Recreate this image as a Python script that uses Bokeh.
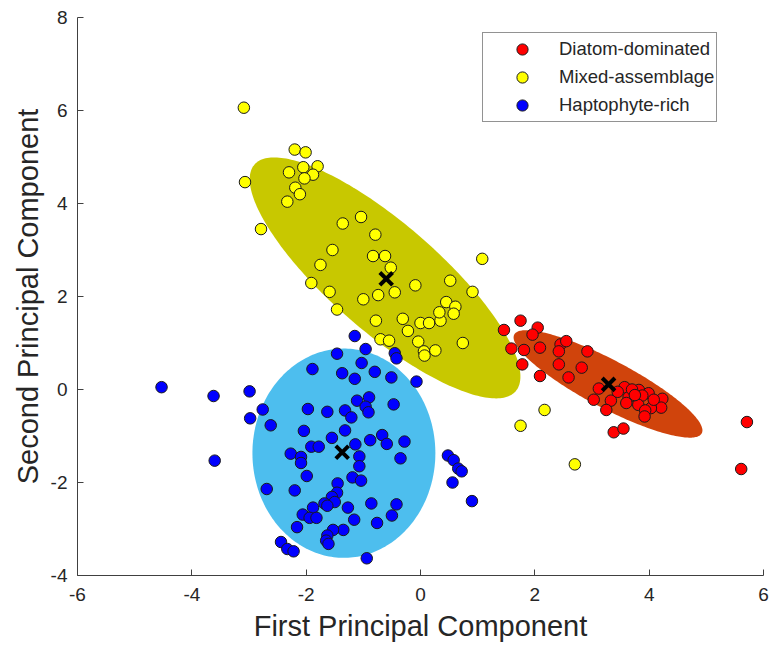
import numpy as np
from bokeh.plotting import figure
from bokeh.models import Range1d, Legend, LegendItem, FixedTicker
from bokeh.embed import file_html
from bokeh.resources import INLINE

groups = ["Diatom-dominated", "Mixed-assemblage", "Haptophyte-rich"]

diatom_x = [1.75, 1.46, 2.05, 1.96, 1.59, 1.81, 2.09, 2.45, 2.55, 2.42, 2.92, 1.78, 2.42, 2.82,
            2.09, 2.59, 3.12, 3.03, 3.33, 3.25, 3.57, 3.82, 3.99, 3.88, 3.64, 3.60, 3.81, 4.23,
            4.21, 4.03, 3.93, 3.92, 3.38, 3.55, 5.71, 5.61, 3.70, 4.08, 3.45, 3.75]
diatom_y = [1.48, 1.28, 1.33, 1.18, 0.88, 0.85, 0.90, 0.97, 1.04, 0.82, 0.82, 0.54, 0.54, 0.47,
            0.29, 0.26, 0.02, -0.22, -0.24, -0.44, 0.05, -0.01, -0.08, -0.13, -0.17, -0.29, -0.33, -0.20,
            -0.39, -0.40, -0.45, -0.58, -0.92, -0.84, -0.70, -1.71, 0.00, -0.22, -0.05, -0.12]

mixed_x = [-3.09, -2.20, -2.01, -1.80, -2.05, -2.30, -1.88, -2.03, -3.07, -2.19, -2.11, -2.33,
           -2.79, -1.04, -1.36, -0.79, -1.54, -0.83, -0.62, -1.75, -0.52, 1.08, 0.52, -0.09,
           -1.91, 0.91, -1.59, -1.46, -1.00, -0.74, -0.45, -0.78, -0.31, -0.22, 0.00, 0.15,
           0.35, 0.33, 0.45, 0.61, 0.58, -0.70, -0.55, -0.04, 0.06, 0.07, 0.26, 0.74,
           2.17, 1.75, 2.70]
mixed_y = [6.06, 5.16, 5.10, 4.80, 4.78, 4.67, 4.62, 4.54, 4.46, 4.34, 4.20, 4.04,
           3.45, 3.71, 3.57, 3.33, 3.00, 2.87, 2.87, 2.68, 2.62, 2.81, 2.34, 2.24,
           2.29, 2.10, 2.10, 1.72, 1.94, 2.03, 2.09, 1.48, 1.52, 1.26, 1.43, 1.43,
           1.48, 1.66, 1.88, 1.78, 1.63, 1.08, 1.05, 1.03, 0.82, 0.73, 0.84, 1.00,
           -0.44, -0.78, -1.61]

hapto_x = [-4.53, -3.62, -2.99, -2.76, -2.98, -2.62, -3.60, -1.15, -0.96, -1.46, -0.45, -0.42,
           -1.89, -1.03, -1.37, -1.15, -0.80, -0.51, -0.07, -1.11, -0.90, -0.96, -0.91, -0.47,
           -1.97, -1.63, -1.32, -1.21, -2.04, -1.32, -1.55, -0.67, -0.59, -0.28, -0.88, -1.14,
           -1.91, -1.78, -2.27, -2.09, -2.09, -0.35, -1.07, -1.07, -1.99, -1.19, -1.04, -1.45,
           -2.69, -2.20, -1.46, -1.55, -1.50, -1.68, -1.63, -0.86, -0.42, -0.50, -1.27, -1.16,
           -0.76, -1.88, -2.06, -1.94, -1.82, -2.16, -1.35, -1.53, -1.63, -1.65, -1.61, -2.44,
           -2.33, -2.22, -0.94, 0.48, 0.58, 0.66, 0.56, 0.72, 0.90]
hapto_y = [0.05, -0.14, -0.04, -0.43, -0.62, -0.77, -1.53, 1.15, 0.87, 0.77, 0.78, 0.67,
           0.44, 0.57, 0.35, 0.23, 0.38, 0.26, 0.17, -0.24, -0.17, -0.37, -0.49, -0.32,
           -0.42, -0.48, -0.45, -0.60, -0.89, -0.88, -1.04, -0.98, -1.17, -1.12, -1.09, -1.18,
           -1.23, -1.23, -1.38, -1.45, -1.58, -1.48, -1.44, -1.65, -1.86, -1.89, -1.96, -2.02,
           -2.14, -2.17, -2.22, -2.31, -2.42, -2.45, -2.50, -2.45, -2.47, -2.71, -2.54, -2.80,
           -2.87, -2.54, -2.69, -2.76, -2.76, -2.96, -3.02, -3.02, -3.14, -3.25, -3.32, -3.28,
           -3.43, -3.48, -3.63, -1.42, -1.52, -1.70, -2.00, -1.76, -2.40]

# cluster centroids (black crosses)
cent_x = [3.29, -0.60, -1.37]
cent_y = [0.11, 2.38, -1.35]

# ellipse centres and conjugate semi-axis vectors (data units)
ell_cx = [3.28, -0.62, -1.34]
ell_cy = [0.12, 2.40, -1.37]
ell_ax = [1.640, 2.285, 1.60]
ell_ay = [-1.062, -2.437, 0.0]
ell_bx = [0.196, 0.620, 0.0]
ell_by = [0.456, 0.880, 2.25]

marker_colors = ["#FF0000", "#FFFF00", "#0000FF"]
fill_colors = ["#D0440C", "#C8C800", "#4DBEEE"]

x_ticks = [-6, -4, -2, 0, 2, 4, 6]
y_ticks = [-4, -2, 0, 2, 4, 6, 8]

FONT = "Liberation Sans"
TXT = "#262626"

p = figure(width=771, height=646, output_backend="svg", toolbar_location=None,
           x_range=Range1d(-6, 6), y_range=Range1d(-4, 8),
           min_border_left=77, min_border_right=8, min_border_top=17, min_border_bottom=71)
p.outline_line_color = None
p.grid.grid_line_color = None
p.background_fill_color = "white"
p.border_fill_color = "white"

# ellipses (drawn first): blue, red, yellow
t = np.linspace(0, 2 * np.pi, 240)
for i in [2, 0, 1]:
    ex = ell_cx[i] + ell_ax[i] * np.cos(t) + ell_bx[i] * np.sin(t)
    ey = ell_cy[i] + ell_ay[i] * np.cos(t) + ell_by[i] * np.sin(t)
    p.patch(ex, ey, fill_color=fill_colors[i], line_color=None)

series = [(diatom_x, diatom_y), (mixed_x, mixed_y), (hapto_x, hapto_y)]
rends = []
for i in [2, 1, 0]:
    xs, ys = series[i]
    r = p.scatter(xs, ys, size=11.5, marker="circle", fill_color=marker_colors[i],
                  line_color="#1a1a1a", line_width=1)
    rends.append((i, r))
rends.sort()

p.scatter(cent_x, cent_y, marker="x", size=18, line_color="black", line_width=4)

legend = Legend(items=[LegendItem(label=groups[i], renderers=[r]) for i, r in rends],
                location=(405, 453), padding=2, spacing=0, label_height=28, glyph_height=28,
                glyph_width=74, label_standoff=0, margin=0,
                label_text_font=FONT, label_text_font_size="18.5px", label_text_color=TXT,
                border_line_color="#262626", border_line_width=1,
                background_fill_color="white", background_fill_alpha=1.0)
p.add_layout(legend)

for ax in (p.xaxis[0], p.yaxis[0]):
    ax.axis_line_color = "#404040"
    ax.major_tick_line_color = "#404040"
    ax.major_tick_in = 6
    ax.major_tick_out = 0
    ax.minor_tick_line_color = None
    ax.major_label_text_font = FONT
    ax.major_label_text_font_size = "19px"
    ax.major_label_text_color = TXT
    ax.axis_label_text_font = FONT
    ax.axis_label_text_font_size = "29px"
    ax.axis_label_text_font_style = "normal"
    ax.axis_label_text_color = TXT

p.xaxis.ticker = FixedTicker(ticks=x_ticks)
p.yaxis.ticker = FixedTicker(ticks=y_ticks)
p.xaxis.major_label_overrides = {v: str(v) for v in x_ticks}
p.yaxis.major_label_overrides = {v: str(v) for v in y_ticks}
p.xaxis.axis_label = "First Principal Component"
p.yaxis.axis_label = "Second Principal Component"
p.xaxis.major_label_standoff = 12
p.yaxis.major_label_standoff = 10
p.xaxis.axis_label_standoff = 6
p.yaxis.axis_label_standoff = 4

open("out.html", "w").write(file_html(p, INLINE))
